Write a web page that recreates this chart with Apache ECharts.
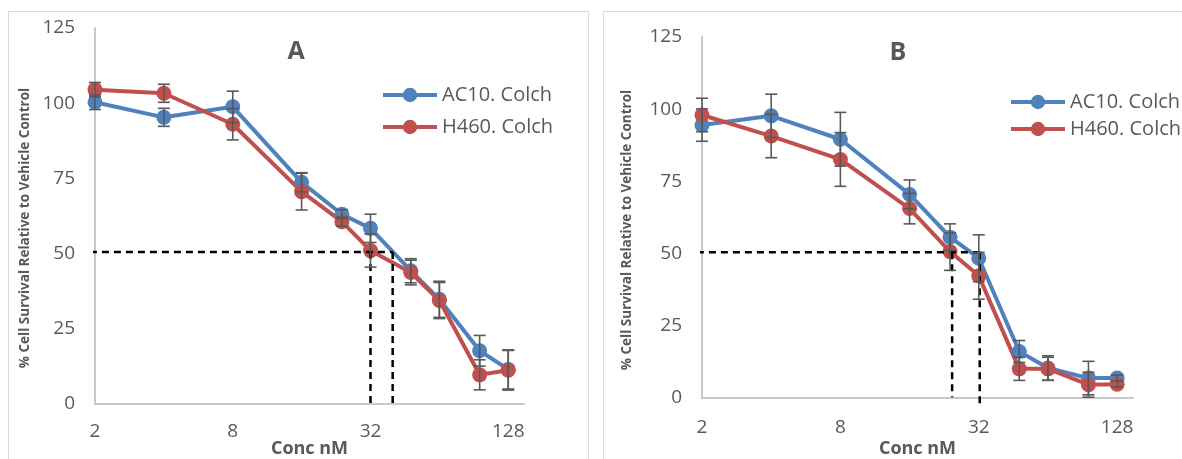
<!DOCTYPE html>
<html>
<head>
<meta charset="utf-8">
<script src="https://cdn.jsdelivr.net/npm/echarts@6/dist/echarts.min.js"></script>
<style>
  html, body { margin: 0; padding: 0; background: #fff; }
  #chart { width: 1182px; height: 459px; }
</style>
</head>
<body>
<div id="chart"></div>
<script>
// concentrations (nM), shared by both panels
const concs = [2, 4, 8, 16, 24, 32, 48, 64, 96, 128];
const xTickLabels = [2, 8, 32, 128];
const seriesNames = ["AC10. Colch", "H460. Colch"];
const panelTitles = ["A", "B"];

// panel A
const acA = [100.3, 95.3, 98.8, 73.7, 63.1, 58.4, 44.3, 34.8, 17.7, 11.5];
const acAErr = [2.4, 3, 5.2, 3.2, 1.5, 4.7, 4, 6, 5.1, 6.5];
const h4A = [104.5, 103.3, 93, 70.6, 60.6, 51, 43.7, 34.4, 9.7, 11.2];
const h4AErr = [2.4, 3, 5.2, 6.1, 1.5, 5.5, 4.1, 6, 5, 6.6];

// panel B
const acB = [94.5, 97.7, 89.6, 70.5, 55.7, 48.4, 16.1, 10.4, 6.9, 6.9];
const acBErr = [5.6, 7.5, 9.3, 5, 4.6, 8.1, 3.8, 4.2, 5.8, 1];
const h4B = [98, 90.7, 82.6, 65.6, 50.7, 42.3, 10.1, 10.1, 4.6, 4.8];
const h4BErr = [5.8, 7.5, 9.3, 5.3, 6.5, 8.1, 4, 4, 4.3, 1];

// IC50 guide lines (conc values) and 50% level
const ic50A = [32, 40];
const ic50B = [24.5, 32.3];
const halfLevel = 50.5;

const blue = "#4f81bd";
const red = "#c0504d";
const grey = "#595959";
const font = "Open Sans";

const chart = echarts.init(document.getElementById("chart"));

function pairs(vals) {
  return concs.map((c, i) => [c, vals[i]]);
}

function errData(vals, errs) {
  return concs.map((c, i) => [c, vals[i] - errs[i], vals[i] + errs[i]]);
}

function renderErr(params, api) {
  const x = api.value(0);
  const top = api.coord([x, api.value(2)]);
  const bot = api.coord([x, api.value(1)]);
  const w = 6;
  const st = { stroke: grey, lineWidth: 1.6 };
  return {
    type: "group",
    children: [
      { type: "line", shape: { x1: top[0], y1: top[1], x2: bot[0], y2: bot[1] }, style: st },
      { type: "line", shape: { x1: top[0] - w, y1: top[1], x2: top[0] + w, y2: top[1] }, style: st },
      { type: "line", shape: { x1: bot[0] - w, y1: bot[1], x2: bot[0] + w, y2: bot[1] }, style: st }
    ]
  };
}

function lineSeries(name, vals, color, idx) {
  return {
    name: name,
    type: "line",
    xAxisIndex: idx,
    yAxisIndex: idx,
    data: pairs(vals),
    symbol: "circle",
    symbolSize: 15,
    lineStyle: { color: color, width: 4 },
    itemStyle: { color: color },
    z: 2
  };
}

function errSeries(vals, errs, idx) {
  return {
    type: "custom",
    xAxisIndex: idx,
    yAxisIndex: idx,
    data: errData(vals, errs),
    encode: { x: 0, y: [1, 2] },
    renderItem: renderErr,
    silent: true,
    z: 4
  };
}

function dashSeries(pts, idx) {
  return {
    type: "line",
    xAxisIndex: idx,
    yAxisIndex: idx,
    data: pts,
    symbol: "none",
    clip: false,
    silent: true,
    lineStyle: { color: "#000", width: 2.5, type: [7, 5] },
    z: 3
  };
}

function guideLines(ic, bottoms, idx) {
  return [
    dashSeries([[1.9, halfLevel], [ic[1], halfLevel]], idx),
    dashSeries([[ic[0], halfLevel], [ic[0], bottoms[0]]], idx),
    dashSeries([[ic[1], halfLevel], [ic[1], bottoms[1]]], idx)
  ];
}

function xAxis(idx, gap, margin) {
  return {
    type: "log",
    logBase: 2,
    gridIndex: idx,
    min: 2,
    max: 150,
    interval: 1,
    name: "Conc nM",
    nameLocation: "middle",
    nameGap: gap,
    nameMoveOverlap: false,
    nameTextStyle: { fontFamily: font, fontSize: 18, fontWeight: "bold", color: grey },
    axisLine: { show: true, lineStyle: { color: "#c9c9c9", width: 2 } },
    axisTick: { show: false },
    splitLine: { show: false },
    axisLabel: {
      margin: margin,
      fontFamily: font,
      fontSize: 19,
      color: grey,
      showMaxLabel: false,
      formatter: function (v) {
        const r = Math.round(v);
        return xTickLabels.indexOf(r) >= 0 && Math.abs(v - r) < 1e-6 ? String(r) : "";
      }
    }
  };
}

function yAxis(idx) {
  return {
    type: "value",
    gridIndex: idx,
    min: 0,
    max: 125,
    interval: 25,
    axisLine: { show: true, lineStyle: { color: "#c9c9c9", width: 2 } },
    axisTick: { show: false },
    splitLine: { show: false },
    axisLabel: { margin: 20, fontFamily: font, fontSize: 19, color: grey }
  };
}

function legend(left, top, gap) {
  return {
    data: seriesNames,
    orient: "vertical",
    left: left,
    top: top,
    itemWidth: 54,
    itemHeight: 18,
    itemGap: gap,
    selectedMode: false,
    lineStyle: { width: 4 },
    textStyle: { fontFamily: font, fontSize: 20, color: grey }
  };
}

function yName(x, y) {
  return {
    type: "text",
    x: x,
    y: y,
    rotation: Math.PI / 2,
    style: {
      text: "% Cell Survival Relative to Vehicle Control",
      fontFamily: font,
      fontSize: 13.5,
      fontWeight: "bold",
      fill: grey,
      align: "center",
      verticalAlign: "middle"
    }
  };
}

function titleText(x, y, t) {
  return {
    type: "text",
    x: x,
    y: y,
    style: {
      text: t,
      fontFamily: font,
      fontSize: 25,
      fontWeight: "bold",
      fill: grey,
      align: "center",
      verticalAlign: "middle"
    }
  };
}

chart.setOption({
  animation: false,
  grid: [
    { left: 95, top: 28, width: 429, height: 376, outerBoundsMode: "none" },
    { left: 702, top: 37, width: 431, height: 361, outerBoundsMode: "none" }
  ],
  xAxis: [xAxis(0, 36, 18), xAxis(1, 42, 20)],
  yAxis: [yAxis(0), yAxis(1)],
  legend: [legend(376, 80, 12), legend(1004, 87, 7)],
  graphic: [
    { type: "rect", shape: { x: 8.5, y: 11.5, width: 580, height: 470 }, style: { fill: "none", stroke: "#d9d9d9", lineWidth: 1 } },
    { type: "rect", shape: { x: 603.5, y: 11.5, width: 600, height: 470 }, style: { fill: "none", stroke: "#d9d9d9", lineWidth: 1 } },
    titleText(296, 52, panelTitles[0]),
    titleText(898, 53, panelTitles[1]),
    yName(25, 228),
    yName(627, 230)
  ],
  series: [
    lineSeries(seriesNames[0], acA, blue, 0),
    lineSeries(seriesNames[1], h4A, red, 0),
    errSeries(acA, acAErr, 0),
    errSeries(h4A, h4AErr, 0),
    ...guideLines(ic50A, [-1.2, -1.2], 0),
    lineSeries(seriesNames[0], acB, blue, 1),
    lineSeries(seriesNames[1], h4B, red, 1),
    errSeries(acB, acBErr, 1),
    errSeries(h4B, h4BErr, 1),
    ...guideLines(ic50B, [0.3, -2.7], 1)
  ]
});
</script>
</body>
</html>
